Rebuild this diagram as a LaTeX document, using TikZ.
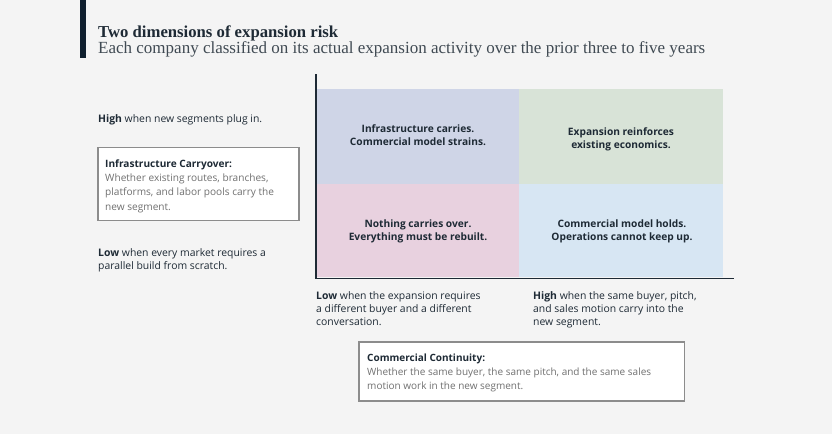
\documentclass[tikz,border=0pt]{standalone}
\usepackage{fontspec}
\setmainfont{Open Sans}
\newfontfamily\titlefont{Liberation Serif}
\definecolor{bg}{HTML}{F4F4F4}
\definecolor{navy}{HTML}{0F1F2E}
\definecolor{ink}{HTML}{1E2A35}
\definecolor{graytxt}{HTML}{707070}
\definecolor{boxline}{HTML}{8C8C8C}
\definecolor{qtl}{HTML}{CFD5E7}
\definecolor{qtr}{HTML}{D8E3D7}
\definecolor{qbl}{HTML}{E8D1DF}
\definecolor{qbr}{HTML}{D7E6F3}
\tikzset{
  lbl/.style={anchor=base west, inner sep=0pt, text=ink, font=\fontsize{10.4}{13}\selectfont, align=left},
  boxtxt/.style={anchor=base west, inner sep=0pt, text=ink, font=\fontsize{10.1}{14.3}\selectfont, align=left},
  qtext/.style={anchor=base, inner sep=0pt, text=ink, font=\fontsize{10.2}{13}\selectfont\bfseries, align=center},
  infobox/.style={draw=boxline, line width=1.2pt, fill=white},
}
\begin{document}
\begin{tikzpicture}[x=1pt,y=-1pt]
\fill[bg] (0,0) rectangle (832,434);
\useasboundingbox (0,0) rectangle (832,434);
% header bar
\fill[navy] (80,0) rectangle (86,58);
\node[anchor=base west, inner sep=0pt, text=ink, font=\titlefont\fontsize{16.7}{18}\selectfont\bfseries] (title) at (98,37) {Two dimensions of expansion risk};
\node[anchor=base west, inner sep=0pt, text=ink!85, font=\titlefont\fontsize{17}{18}\selectfont] (subtitle) at (98,53.5) {Each company classified on its actual expansion activity over the prior three to five years};
% quadrants
\fill[qtl] (317,89) rectangle (519,184);
\fill[qtr] (519,89) rectangle (723,184);
\fill[qbl] (317,184) rectangle (519,277);
\fill[qbr] (519,184) rectangle (723,277);
\node[qtext] (q1) at (418,145.5) {Infrastructure carries.\\Commercial model strains.};
\node[qtext] (q2) at (621,148.5) {Expansion reinforces\\existing economics.};
\node[qtext] (q3) at (418,240.5) {Nothing carries over.\\Everything must be rebuilt.};
\node[qtext] (q4) at (622,240.5) {Commercial model holds.\\Operations cannot keep up.};
% axes
\coordinate (ytop) at (316,74);
\coordinate (origin) at (316,278.5);
\coordinate (xend) at (734,278.5);
\draw[ink, line width=1.4pt] (ytop) -- (origin) -- (xend);
% left labels
\node[lbl] (yhigh) at (98,122) {\textbf{High} when new segments plug in.};
\draw[infobox] (98,147.5) rectangle (299,220.5);
\node[boxtxt] (ybox) at (105,210) {\textbf{Infrastructure Carryover:}\\\color{graytxt}Whether existing routes, branches,\\\color{graytxt}platforms, and labor pools carry the\\\color{graytxt}new segment.};
\node[lbl] (ylow) at (98,269.5) {\textbf{Low} when every market requires a\\parallel build from scratch.};
% bottom labels
\node[lbl] (xlow) at (316,325) {\textbf{Low} when the expansion requires\\a different buyer and a different\\conversation.};
\node[lbl] (xhigh) at (533,325) {\textbf{High} when the same buyer, pitch,\\and sales motion carry into the\\new segment.};
\draw[infobox] (359,342) rectangle (684.5,401);
\node[boxtxt, font=\fontsize{10}{14}\selectfont] (xbox) at (367,389.5) {\textbf{Commercial Continuity:}\\\color{graytxt}Whether the same buyer, the same pitch, and the same sales\\\color{graytxt}motion work in the new segment.};
\end{tikzpicture}
\end{document}
